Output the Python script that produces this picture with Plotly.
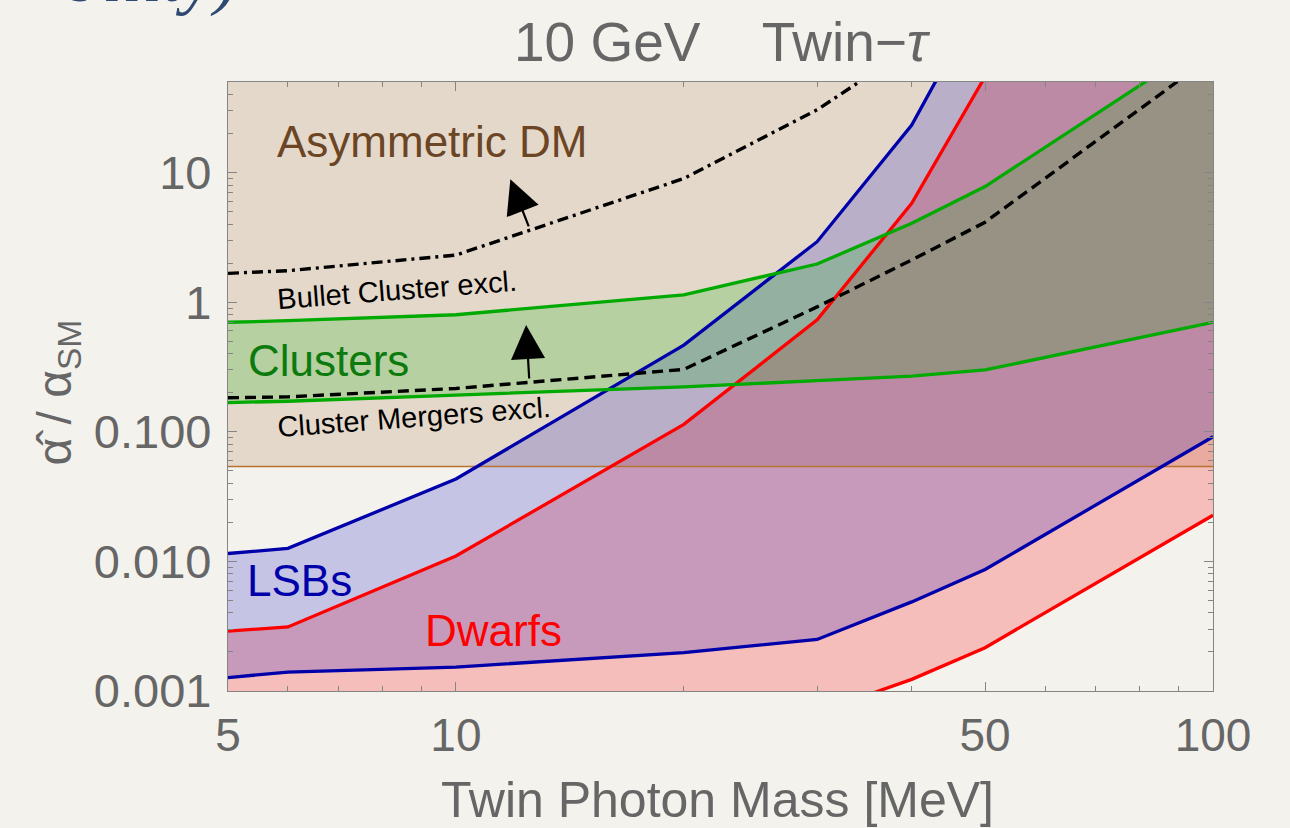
import numpy as np
import plotly.graph_objects as go

# ---------------- data ----------------
mass = [5, 6, 10, 20, 30, 40, 50, 100]

lsb_upper = [0.0115, 0.0126, 0.0432, 0.467, 2.93, 23.3, 250, 10000]
lsb_lower = [0.00127, 0.0014, 0.00153, 0.00198, 0.0025, 0.00487, 0.00866, 0.0915]

dwarf_upper = [0.0029, 0.00312, 0.011, 0.114, 0.73, 5.8, 55, 10000]
dwarf_lower = [2e-5, 2.5e-5, 5e-5, 2e-4, 0.00068, 0.00123, 0.00216, 0.0227]

cluster_upper = [0.70, 0.72, 0.80, 1.14, 1.97, 4.07, 7.8, 110]
cluster_lower = [0.168, 0.172, 0.192, 0.222, 0.248, 0.269, 0.30, 0.70]

bullet_mass = [5, 6, 10, 20, 30, 40]
bullet_excl = [1.67, 1.75, 2.31, 9.0, 30.5, 93]

merger_excl = [0.183, 0.186, 0.216, 0.303, 0.92, 2.12, 4.14, 80]

asym_mass = [5, 100]
asym_bound = [0.054, 0.054]
asym_top = [1000, 1000]

x_major = [5, 10, 50, 100]
x_major_text = ["5", "10", "50", "100"]
x_minor = [6, 7, 8, 9, 20, 30, 40, 60, 70, 80, 90]
y_major = [0.001, 0.01, 0.1, 1, 10]
y_major_text = ["0.001", "0.010", "0.100", "1", "10"]
y_minor = [k * 10.0 ** e for e in range(-3, 2) for k in range(2, 10) if k * 10.0 ** e <= 50]

FONT = "Liberation Sans, Arial, Helvetica, sans-serif"
GRAY = "#666666"
FRAME = "#858585"
BG = "#f4f2ed"


def band(x, lo, hi):
    return list(x) + list(x)[::-1], list(lo) + list(hi)[::-1]


fig = go.Figure()

# ---------------- filled regions ----------------
bx, by = band(asym_mass, asym_bound, asym_top)
fig.add_trace(go.Scatter(x=bx, y=by, fill="toself", fillcolor="rgba(150,90,30,0.17)",
                         line=dict(width=0), mode="lines", hoverinfo="skip"))
bx, by = band(mass, dwarf_lower, dwarf_upper)
fig.add_trace(go.Scatter(x=bx, y=by, fill="toself", fillcolor="rgba(255,0,0,0.21)",
                         line=dict(width=0), mode="lines", hoverinfo="skip"))
bx, by = band(mass, lsb_lower, lsb_upper)
fig.add_trace(go.Scatter(x=bx, y=by, fill="toself", fillcolor="rgba(0,0,195,0.19)",
                         line=dict(width=0), mode="lines", hoverinfo="skip"))
bx, by = band(mass, cluster_lower, cluster_upper)
fig.add_trace(go.Scatter(x=bx, y=by, fill="toself", fillcolor="rgba(0,180,0,0.20)",
                         line=dict(width=0), mode="lines", hoverinfo="skip"))

# ---------------- boundary lines ----------------
fig.add_trace(go.Scatter(x=asym_mass, y=asym_bound, mode="lines",
                         line=dict(color="#b87333", width=1.3)))
for ys in (lsb_upper, lsb_lower):
    fig.add_trace(go.Scatter(x=mass, y=ys, mode="lines", line=dict(color="#0000aa", width=3.3)))
for ys in (dwarf_upper, dwarf_lower):
    fig.add_trace(go.Scatter(x=mass, y=ys, mode="lines", line=dict(color="#ff0000", width=3.3)))
for ys in (cluster_upper, cluster_lower):
    fig.add_trace(go.Scatter(x=mass, y=ys, mode="lines", line=dict(color="#00aa00", width=3.3)))
fig.add_trace(go.Scatter(x=bullet_mass, y=bullet_excl, mode="lines",
                         line=dict(color="black", width=3.4, dash="11px,5px,3px,5px")))
fig.add_trace(go.Scatter(x=mass, y=merger_excl, mode="lines",
                         line=dict(color="black", width=3.4, dash="11px,6px")))

# invisible trace for the minor-tick overlay axes
fig.add_trace(go.Scatter(x=[], y=[], xaxis="x2", yaxis="y2", mode="lines"))

# ---------------- axes ----------------
xr = [np.log10(5), 2]
yr = [-3, np.log10(50)]
common = dict(type="log", showgrid=False, zeroline=False)
fig.update_layout(
    xaxis=dict(**common, range=xr, tickvals=x_major, ticktext=x_major_text, ticks="inside",
               ticklen=9, tickwidth=1.2, tickcolor=FRAME, showline=True, linecolor=FRAME,
               linewidth=1.3, mirror="ticks", tickfont=dict(family=FONT, size=46, color=GRAY),
               ticklabelstandoff=4),
    yaxis=dict(**common, range=yr, tickvals=y_major, ticktext=y_major_text, ticks="inside",
               ticklen=9, tickwidth=1.2, tickcolor=FRAME, showline=True, linecolor=FRAME,
               linewidth=1.3, mirror="ticks", tickfont=dict(family=FONT, size=47, color=GRAY),
               ticklabelstandoff=6),
    xaxis2=dict(**common, range=xr, overlaying="x", anchor="y2", side="bottom", tickvals=x_minor,
                ticks="inside", ticklen=5, tickwidth=1.1, tickcolor=FRAME, showticklabels=False,
                showline=False, mirror="ticks"),
    yaxis2=dict(**common, range=yr, overlaying="y", anchor="x2", side="left", tickvals=y_minor,
                ticks="inside", ticklen=5, tickwidth=1.1, tickcolor=FRAME, showticklabels=False,
                showline=False, mirror="ticks"),
)

# ---------------- text ----------------
ann = []


def label(x, y, text, size, color, angle=0):
    ann.append(dict(x=np.log10(x), y=np.log10(y), xref="x", yref="y", text=text, showarrow=False,
                    textangle=angle, font=dict(family=FONT, size=size, color=color)))


label(9.31, 17.3, "Asymmetric DM", 44, "#6b4524")
label(8.35, 1.24, "Bullet Cluster excl.", 29, "black", -4.4)
label(8.80, 0.131, "Cluster Mergers excl.", 29, "black", -4.2)
label(6.79, 0.358, "Clusters", 44, "#0c7a0c")
label(6.22, 0.00716, "LSBs", 44, "#0000aa")
label(11.2, 0.00294, "Dwarfs", 44, "#ff0000")

# arrows (head, tail)
for head, tail in [((11.8, 8.9), (12.5, 3.74)), ((12.38, 0.667), (12.5, 0.251))]:
    ann.append(dict(x=np.log10(head[0]), y=np.log10(head[1]), ax=np.log10(tail[0]),
                    ay=np.log10(tail[1]), xref="x", yref="y", axref="x", ayref="y", text="",
                    showarrow=True, arrowhead=2, arrowsize=3.1, arrowwidth=2.2,
                    arrowcolor="black", standoff=0, startstandoff=0))

# title and axis titles
ann.append(dict(x=0.5017, y=1.0 + 40 / 609, xref="paper", yref="paper", xanchor="center",
                yanchor="middle", showarrow=False,
                text="10 GeV\u00a0\u00a0\u00a0\u00a0Twin\u2212<i>\u03c4</i>",
                font=dict(family=FONT, size=55, color=GRAY)))
ann.append(dict(x=0.497, y=-109 / 609, xref="paper", yref="paper", xanchor="center",
                yanchor="middle", showarrow=False, text="Twin Photon Mass [MeV]",
                font=dict(family=FONT, size=50, color=GRAY)))
ann.append(dict(x=-170 / 985, y=0.49, xref="paper", yref="paper", xanchor="center",
                yanchor="middle", showarrow=False, textangle=-90,
                text="\u03b1\u0302 / \u03b1<sub>SM</sub>",
                font=dict(family=FONT, size=48, color=GRAY)))
# cropped slide text at the very top-left
ann.append(dict(x=12 / 985, y=(691 - 19) / 609, xref="paper", yref="paper", xanchor="right",
                yanchor="bottom", showarrow=False, text="<i>bility)</i>",
                font=dict(family="Liberation Serif, serif", size=72, color="#2e4a72")))

fig.update_layout(
    width=1290, height=828,
    margin=dict(l=228, r=77, t=82, b=137, autoexpand=False),
    paper_bgcolor=BG, plot_bgcolor="rgba(0,0,0,0)",
    showlegend=False, annotations=ann,
    font=dict(family=FONT, color=GRAY),
)

fig.write_html(
    "out.html",
    config={"displayModeBar": False},
    post_script="document.body.style.margin='0px';document.body.style.background='%s';" % BG,
)
